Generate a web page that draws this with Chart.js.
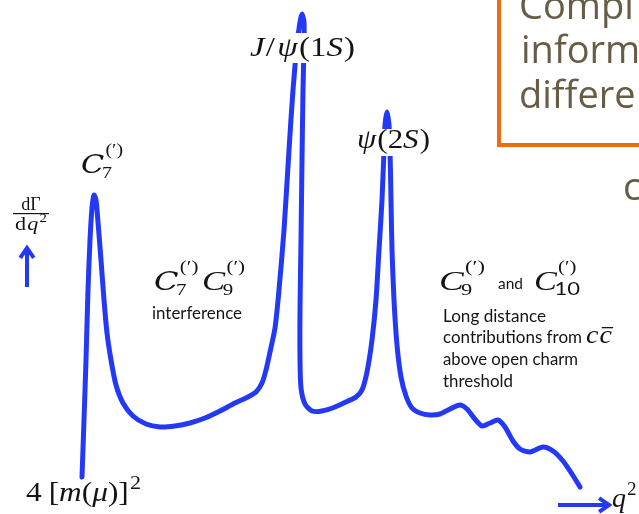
<!DOCTYPE html>
<html>
<head>
<meta charset="utf-8">
<script src="https://cdn.jsdelivr.net/npm/chart.js@4.4.1/dist/chart.umd.min.js"></script>
<style>
  html, body { margin: 0; padding: 0; background: #fff; overflow: hidden; }
  #wrap { width: 639px; height: 514px; position: relative; }
</style>
</head>
<body>
<div id="wrap"><canvas id="spectrum" width="639" height="514"></canvas></div>
<script>
// Schematic dilepton spectrum dΓ/dq² versus q² (arbitrary units).
// Photon pole (C7), J/ψ(1S) and ψ(2S) resonances, then broad charmonium wiggles.
const q2 = [
  82, 84, 86, 88, 90, 92, 94, 96, 98, 101, 104, 107, 111, 116, 123, 133, 146, 160,
  175, 190, 205, 220, 235, 248, 256, 262, 266, 270, 275, 279, 284, 289, 293, 297,
  300, 302, 304, 304, 303, 302, 301, 300, 300, 301, 305, 312, 322, 335, 348, 356,
  362, 367, 372, 376, 379, 382, 384, 385, 387, 389, 390, 391, 392, 394, 397, 401,
  406, 412, 420, 430, 440, 450, 460, 467, 474, 482, 490, 498, 505, 513, 520, 530,
  543, 553, 563, 572, 580
];
const rate = [
  37, 94, 154, 224, 274, 306, 319, 314, 292, 254, 214, 181, 154, 129, 111, 98, 90, 87,
  88, 91, 96, 103, 111, 117, 122, 131, 144, 162, 186, 224, 284, 364, 424, 469,
  492, 500, 492, 469, 424, 354, 274, 204, 154, 126, 110, 103, 103, 107, 113, 117,
  124, 142, 174, 214, 264, 314, 364, 389, 402, 389, 364, 314, 264, 214, 169, 137,
  118, 106, 101, 99, 100, 105, 109, 105, 96, 88, 91, 94, 87, 73, 65, 62,
  67, 63, 53, 40, 27
];

const BLUE = '#2439f6';
const INK = '#141414';
const SERIF = '"Liberation Serif", "DejaVu Serif", serif';
const SANS = 'Lato, "Open Sans", sans-serif';
const it = s => `italic ${s}px ${SERIF}`;
const rm = s => `${s}px ${SERIF}`;
const cal = s => `italic ${s}px "DejaVu Serif", ${SERIF}`;
const ss = s => `${s}px ${SANS}`;

// Lay out a run of math pieces; "stack" pieces share the x of the preceding piece (sub/sup pairs).
function layoutRun(ctx, list) {
  let cx = 0, start = 0;
  const placed = [];
  for (const r of list) {
    ctx.font = r.f;
    const w = ctx.measureText(r.t).width;
    const sx = (r.stack ? start : cx) + (r.k || 0);
    placed.push({r, sx, w});
    if (r.stack) cx = Math.max(cx, sx + w);
    else { start = sx; cx = sx + w; }
  }
  return {placed, width: cx};
}

// Draw the run at (x, y); when a width is given the run is stretched to it.
function mathRun(ctx, x, y, list, width) {
  const {placed, width: natural} = layoutRun(ctx, list);
  ctx.save();
  ctx.translate(x, y);
  if (width) ctx.scale(width / natural, 1);
  for (const {r, sx, w} of placed) {
    ctx.font = r.f;
    ctx.fillText(r.t, sx, r.dy || 0);
    if (r.over) {
      ctx.fillRect(sx + 2, -r.over, w - 1, 1.3);
    }
  }
  ctx.restore();
}

// Plain text squeezed or stretched to a given width.
function fitText(ctx, text, x, y, width, font) {
  ctx.font = font;
  const w = ctx.measureText(text).width;
  ctx.save();
  ctx.translate(x, y);
  ctx.scale(width / w, 1);
  ctx.fillText(text, 0, 0);
  ctx.restore();
}

function arrow(ctx, x1, y1, x2, y2, head) {
  const a = Math.atan2(y2 - y1, x2 - x1);
  ctx.beginPath();
  ctx.moveTo(x1, y1);
  ctx.lineTo(x2, y2);
  ctx.moveTo(x2 - head * Math.cos(a - 0.6), y2 - head * Math.sin(a - 0.6));
  ctx.lineTo(x2, y2);
  ctx.lineTo(x2 - head * Math.cos(a + 0.6), y2 - head * Math.sin(a + 0.6));
  ctx.stroke();
}

const annotations = {
  id: 'annotations',
  afterDatasetsDraw(chart) {
    const ctx = chart.ctx;
    const L = chart.chartArea.left, T = chart.chartArea.top;
    ctx.save();
    ctx.translate(L, T);
    ctx.textBaseline = 'alphabetic';
    ctx.textAlign = 'left';

    // Slide box (partially off the right edge)
    ctx.strokeStyle = '#ea6d14';
    ctx.lineWidth = 4;
    ctx.strokeRect(499, -20, 200, 165);
    ctx.fillStyle = '#675c46';
    ctx.font = '38px "Open Sans", sans-serif';
    ctx.fillText('Compl', 519, 19);
    ctx.fillText('inform', 521, 63);
    ctx.fillText('differe', 519, 108);
    ctx.fillText('c', 623, 200);

    // Resonance labels sit on white patches that interrupt the curve
    ctx.fillStyle = '#fff';
    ctx.fillRect(246, 33, 114, 30);
    ctx.fillRect(354, 129, 80, 27);

    ctx.fillStyle = INK;
    mathRun(ctx, 250, 56, [
      {t: 'J', f: it(28)}, {t: '/', f: rm(28), k: 1}, {t: 'ψ', f: it(28), k: 2},
      {t: '(1', f: rm(28), k: 1}, {t: 'S', f: it(28)}, {t: ')', f: rm(28), k: 1}
    ], 105);
    mathRun(ctx, 357, 148, [
      {t: 'ψ', f: it(28)}, {t: '(2', f: rm(28), k: 1}, {t: 'S', f: it(28)}, {t: ')', f: rm(28), k: 1}
    ], 73);

    // C7 pole label
    mathRun(ctx, 81, 173, [
      {t: 'C', f: cal(26)},
      {t: '(′)', f: rm(17), dy: -18, k: 1},
      {t: '7', f: rm(17), dy: 5, stack: true, k: -3}
    ], 42);

    // Interference label
    mathRun(ctx, 154, 290, [
      {t: 'C', f: cal(26)},
      {t: '(′)', f: rm(17), dy: -18, k: 1},
      {t: '7', f: rm(17), dy: 5, stack: true, k: -3},
      {t: 'C', f: it(28), k: 3},
      {t: '(′)', f: rm(17), dy: -18, k: 1},
      {t: '9', f: rm(17), dy: 5, stack: true, k: -3}
    ], 91);
    fitText(ctx, 'interference', 152, 319, 90, ss(17));

    // Long-distance label block
    mathRun(ctx, 439, 290, [
      {t: 'C', f: it(28)},
      {t: '(′)', f: rm(17), dy: -18, k: 1},
      {t: '9', f: rm(17), dy: 5, stack: true, k: -3}
    ], 46);
    fitText(ctx, 'and', 498, 289, 25, ss(16));
    mathRun(ctx, 534, 290, [
      {t: 'C', f: it(28)},
      {t: '(′)', f: rm(17), dy: -18, k: 1},
      {t: '10', f: ss(18), dy: 5, stack: true, k: -3}
    ], 46);
    fitText(ctx, 'Long distance', 443, 322, 103, ss(18));
    fitText(ctx, 'contributions from', 443, 343, 139, ss(18));
    mathRun(ctx, 586, 343, [
      {t: 'c', f: it(25)}, {t: 'c', f: it(25), k: 1, over: 16}
    ], 26);
    fitText(ctx, 'above open charm', 443, 365, 135, ss(18));
    fitText(ctx, 'threshold', 443, 387, 70, ss(18));

    // Axis notes
    ctx.textAlign = 'center';
    ctx.font = rm(18);
    ctx.fillText('dΓ', 31, 210);
    ctx.textAlign = 'left';
    mathRun(ctx, 15, 230, [
      {t: 'd', f: rm(18)}, {t: 'q', f: it(18), k: 1}, {t: '2', f: rm(12), dy: -8, k: 1}
    ], 32);
    ctx.fillRect(13, 213, 36, 1.2);

    mathRun(ctx, 26, 501, [
      {t: '4', f: rm(27)}, {t: '[', f: rm(27), k: 6}, {t: 'm', f: it(27)},
      {t: '(', f: rm(27)}, {t: 'μ', f: it(27)}, {t: ')]', f: rm(27)},
      {t: '2', f: rm(19), dy: -12, k: 1}
    ], 115);
    mathRun(ctx, 612, 507, [
      {t: 'q', f: it(28)}, {t: '2', f: rm(19), dy: -12, k: 1}
    ]);

    ctx.strokeStyle = BLUE;
    ctx.lineWidth = 4;
    ctx.lineCap = 'butt';
    ctx.lineJoin = 'miter';
    arrow(ctx, 558, 505, 609, 505, 12);
    arrow(ctx, 27, 287, 27, 248, 12);

    ctx.restore();
  }
};

new Chart(document.getElementById('spectrum'), {
  type: 'line',
  data: {
    datasets: [{
      data: q2.map((q, i) => ({x: q, y: rate[i]})),
      borderColor: BLUE,
      borderWidth: 5,
      pointRadius: 0,
      tension: 0.25,
      borderCapStyle: 'round',
      borderJoinStyle: 'round',
      fill: false
    }]
  },
  options: {
    responsive: false,
    animation: false,
    devicePixelRatio: 1,
    events: [],
    layout: {padding: 0},
    scales: {
      x: {type: 'linear', display: false, min: 0, max: 639},
      y: {type: 'linear', display: false, min: 0, max: 514}
    },
    plugins: {legend: {display: false}, tooltip: {enabled: false}}
  },
  plugins: [annotations]
});
</script>
</body>
</html>
